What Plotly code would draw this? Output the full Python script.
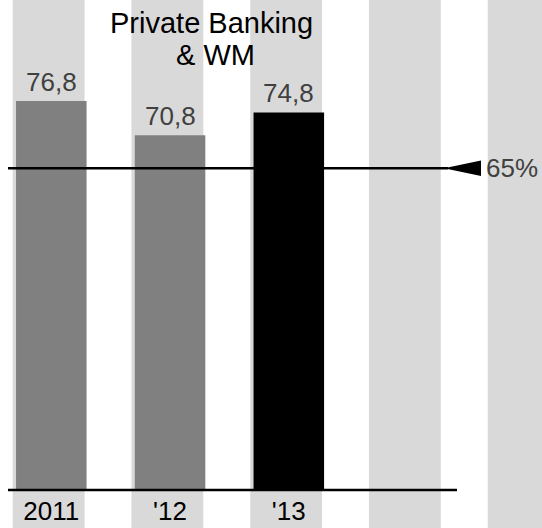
import plotly.graph_objects as go

# Data
years = ["2011", "'12", "'13"]
values = [76.8, 70.8, 74.8]
bar_colors = ["#808080", "#808080", "#000000"]
target = 65
target_label = "65%"
title_lines = ["Private Banking", "& WM"]
n_slots = 5

W, H = 542, 528
B = 38                      # bottom margin under the plot area
PH = H - B                  # plot-area height in px
FONT = "Liberation Sans, Arial"


def px_x(p):
    """horizontal pixel -> paper fraction"""
    return p / W


def px_y(p):
    """vertical pixel (from top) -> paper fraction of the plot area"""
    return (PH - p) / PH


fig = go.Figure()

fig.add_trace(go.Bar(
    x=list(range(len(values))),
    y=values,
    width=0.594,
    marker=dict(color=bar_colors, line=dict(width=0)),
    hoverinfo="skip",
))

shapes = []
# light background columns
for i in range(n_slots):
    shapes.append(dict(type="rect", xref="x", yref="paper",
                       x0=i - 0.325, x1=i + 0.28, y0=-B / PH, y1=1,
                       fillcolor="#d9d9d9", line=dict(width=0), layer="below"))
# baseline
shapes.append(dict(type="line", xref="paper", yref="paper",
                   x0=px_x(8), x1=px_x(457), y0=0, y1=0,
                   line=dict(color="black", width=2.5), layer="above"))
# target line with arrow head
shapes.append(dict(type="line", xref="paper", yref="y",
                   x0=px_x(8), x1=px_x(448), y0=target, y1=target,
                   line=dict(color="black", width=2.5), layer="above"))
shapes.append(dict(type="path", xref="paper", yref="y",
                   ysizemode="pixel", yanchor=target,
                   path=f"M {px_x(444)},0 L {px_x(481)},7.7 L {px_x(481)},-7.7 Z",
                   fillcolor="black", line=dict(width=0), layer="above"))

annotations = []
for i, v in enumerate(values):
    annotations.append(dict(x=i, y=v, xref="x", yref="y",
                            text=f"{v:.1f}".replace(".", ","),
                            showarrow=False, yanchor="bottom", xanchor="center",
                            yshift=2,
                            font=dict(family=FONT, size=26, color="#404040")))
annotations.append(dict(x=px_x(484), y=target, xref="paper", yref="y",
                        text=target_label, showarrow=False,
                        xanchor="left", yanchor="middle",
                        font=dict(family=FONT, size=26, color="#404040")))
annotations.append(dict(x=px_x(211), y=px_y(23), xref="paper", yref="paper",
                        text=title_lines[0], showarrow=False,
                        xanchor="center", yanchor="middle",
                        font=dict(family=FONT, size=29, color="black")))
annotations.append(dict(x=px_x(215), y=px_y(55), xref="paper", yref="paper",
                        text=title_lines[1], showarrow=False,
                        xanchor="center", yanchor="middle",
                        font=dict(family=FONT, size=29, color="black")))

fig.update_layout(
    width=W, height=H,
    margin=dict(l=0, r=0, t=0, b=B, pad=0),
    paper_bgcolor="white", plot_bgcolor="rgba(0,0,0,0)",
    showlegend=False,
    shapes=shapes,
    annotations=annotations,
    xaxis=dict(range=[-0.432, 4.132], tickvals=list(range(len(years))), ticktext=years,
               showgrid=False, zeroline=False, showline=False, ticks="",
               ticklabelstandoff=3,
               tickfont=dict(family=FONT, size=26, color="black"),
               fixedrange=True),
    yaxis=dict(range=[8.56, 94.53], visible=False, fixedrange=True),
)

fig.write_html("out.html")
